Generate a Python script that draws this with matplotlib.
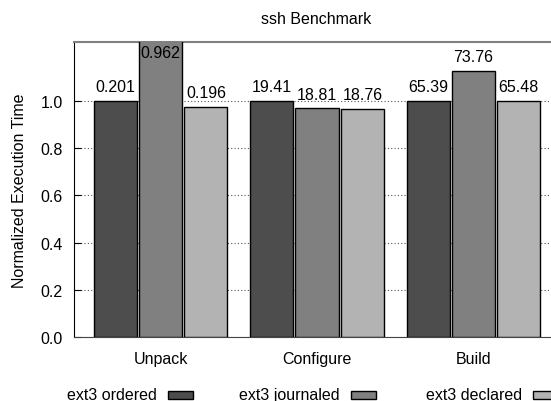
import matplotlib
matplotlib.use("Agg")
import matplotlib.pyplot as plt
from matplotlib.patches import Rectangle
import numpy as np

# raw timings (seconds) per phase, normalized to ext3 ordered
phases = ["Unpack", "Configure", "Build"]
series = ["ext3 ordered", "ext3 journaled", "ext3 declared"]
ordered = [0.201, 19.41, 65.39]
journaled = [0.962, 18.81, 73.76]
declared = [0.196, 18.76, 65.48]
colors = ["#4d4d4d", "#808080", "#b3b3b3"]

plt.rcParams["font.family"] = ["Liberation Sans", "DejaVu Sans"]
plt.rcParams["font.size"] = 11.5

fig = plt.figure(figsize=(5.51, 4.02), dpi=100)
ax = fig.add_axes([74 / 551, 64 / 402, 486 / 551, 295 / 402])

raw = [ordered, journaled, declared]
x = np.arange(len(phases))
pitch = 0.29
width = 0.275
ymax = 1.25

for i, (vals, col) in enumerate(zip(raw, colors)):
    norm = np.array(vals) / np.array(ordered)
    xs = x + (i - 1) * pitch
    ax.bar(xs, norm, width=width, color=col, edgecolor="black",
           linewidth=1.0, zorder=3)
    for xi, h, v in zip(xs, norm, vals):
        ax.text(xi, min(h, 1.145) + 0.06, f"{v:g}", ha="center",
                va="center", zorder=4)

ax.set_xlim(-0.553, 2.553)
ax.set_ylim(0, ymax)
ax.set_yticks([0.0, 0.2, 0.4, 0.6, 0.8, 1.0])
ax.set_yticklabels([f"{t:.1f}" for t in ax.get_yticks()])
ax.set_xticks(x)
ax.set_xticklabels(phases)
ax.tick_params(axis="x", length=0, pad=10)
ax.tick_params(axis="y", direction="in", length=5, pad=8)
ax.yaxis.grid(True, linestyle=(0, (1, 2)), color="#555555",
              linewidth=0.8, zorder=0)
ax.set_axisbelow(True)

ax.spines["left"].set_color("black")
ax.spines["bottom"].set_color("#444444")
ax.spines["top"].set_color("#808080")
ax.spines["top"].set_linewidth(1.5)
ax.spines["right"].set_visible(False)

ax.set_ylabel("Normalized Execution Time", labelpad=10)
fig.text(316 / 551, 1 - 20 / 402, "ssh Benchmark", ha="center", va="center")

# horizontal key along the bottom: label then swatch
text_right = [157, 340, 522]
for label, col, xr in zip(series, colors, text_right):
    fig.text(xr / 551, 1 - 396 / 402, label, ha="right", va="center")
    fig.patches.append(Rectangle(((xr + 11) / 551, 1 - 400 / 402),
                                 25 / 551, 8 / 402, facecolor=col,
                                 edgecolor="black", linewidth=1.0,
                                 transform=fig.transFigure, figure=fig))

fig.savefig("out.png", dpi=100)
